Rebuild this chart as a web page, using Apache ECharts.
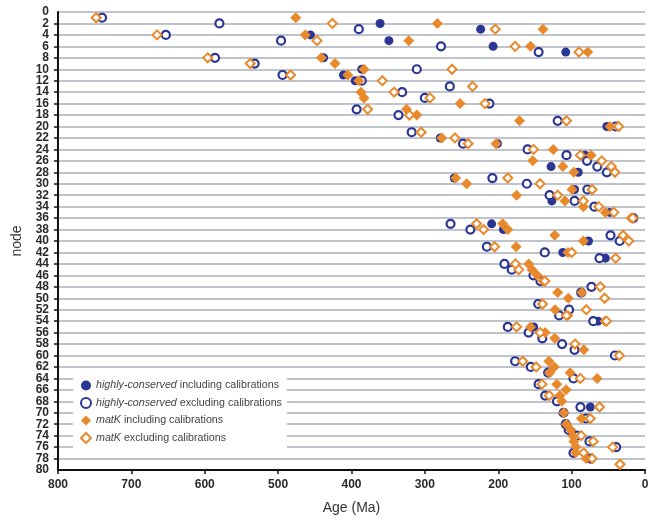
<!DOCTYPE html>
<html>
<head>
<meta charset="utf-8">
<script src="https://cdn.jsdelivr.net/npm/echarts@6/dist/echarts.min.js"></script>
<style>
html,body{margin:0;padding:0;background:#fff;}
#chart{width:655px;height:520px;}
</style>
</head>
<body>
<div id="chart"></div>
<script>
// [node, age (Ma)] pairs
const hcIncl = [[2,361],[3,224],[4,456],[5,349],[6,207],[7,108],[8,438],[10,386],[11,411],[12,395],
  [20,52],[22,279],[23,201],[25,81.6],[27,128],[28,91],[29,260],[31,96],[33,127],[35,48],[37,209],
  [38,193],[40,77],[42,112],[43,54],[54,64],[55,151.6],[69,74.5]];
const hcExcl = [[1,740],[2,580],[3,390],[4,653],[5,496],[6,278],[7,145],[8,586],[9,532],[10,311],
  [11,494],[12,386],[13,266],[14,331],[15,300],[16,212],[17,393],[18,336],[19,119],[20,40],[21,318],
  [23,248],[24,160],[25,107],[26,79],[27,65],[28,52],[29,208],[30,161],[31,78.5],[32,130],[33,96],
  [34,69],[36,16],[37,265],[38,238],[39,47],[40,34.5],[41,215.5],[42,136.6],[43,62],[44,191.6],
  [45,181.6],[46,152],[47,142.5],[48,73],[49,87],[51,145.5],[52,103.5],[53,117],[54,70.5],[55,187],
  [56,158.6],[57,140],[58,113],[59,96],[60,41],[61,177],[62,155.7],[63,132],[64,97.5],[65,145],
  [67,136],[68,120],[69,88],[70,111],[71,80.2],[72,108],[73,104],[74,93],[75,75.7],[76,39.3],
  [77,97.5],[78,74]];
const mkIncl = [[1,476],[2,283],[3,139],[4,463],[5,322],[6,156],[7,78],[8,441],[9,422.5],[10,383],
  [11,405],[12,390],[14,387],[15,383],[16,252],[17,325],[18,311],[19,171],[20,47.5],[22,277],[23,203],
  [24,125],[25,73.4],[26,153],[27,112],[28,97],[29,258],[30,243],[31,99.5],[32,175],[33,109],[34,84],
  [35,54],[36,19],[37,194],[38,187],[39,123],[40,84],[41,175.6],[42,105],[44,158.4],[45,154],[46,147],
  [47,139],[49,119],[49,86],[50,104.5],[52,122.5],[53,105],[54,54.5],[55,156],[56,136],[57,123],
  [59,83.4],[61,131],[62,123.6],[63,130],[63,102],[64,65.2],[65,120.2],[66,107.5],[67,116],[68,113.4],
  [70,110.5],[71,86.6],[72,107],[73,101],[74,98.4],[75,97],[76,94],[77,94.5],[78,80.2],[79,34]];
const mkExcl = [[1,748],[2,426],[3,204],[4,665],[5,447],[6,177],[7,90],[8,596],[9,538],[10,263],
  [11,483],[12,358],[13,235],[14,342],[15,293],[16,218],[17,378],[18,321],[19,107],[20,36],[21,305],
  [22,259],[23,241],[24,152],[25,88],[26,59],[27,46],[28,41],[29,187],[30,143],[31,72],[32,119],
  [33,84],[34,63],[35,42.5],[36,16.6],[37,229.5],[38,220],[39,30],[40,22],[41,205],[42,100],[43,40],
  [44,176.6],[45,172],[47,136.5],[48,61],[50,55],[51,139.6],[52,80],[53,107],[54,52.5],[55,175],
  [56,143],[58,95.5],[60,35],[61,166.6],[62,148.4],[64,88.2],[65,140.5],[67,130.5],[69,62],[71,74.7],
  [74,87],[75,70.5],[76,44],[77,83.7],[78,72],[79,34]];

const seriesNames = ['highly-conserved|including calibrations','highly-conserved|excluding calibrations',
  'matK|including calibrations','matK|excluding calibrations'];
const xTicks = {min:0, max:800, interval:100};
const yTicks = {min:0, max:80, interval:2};

const BLUE = '#2b3593';
const ORANGE = '#e8892c';
const FONT = '"Liberation Sans", Arial, Helvetica, sans-serif';

const toXY = arr => arr.map(p => [p[1], p[0]]);

const yLabelStyle = {fontSize: 12, fontWeight: 'bold', color: '#2a2a2a', margin: 9, fontFamily: FONT};

const chart = echarts.init(document.getElementById('chart'), null, {renderer:'canvas'});
chart.setOption({
  animation: false,
  backgroundColor: '#fff',
  textStyle: {fontFamily: FONT},
  grid: {left: 58, right: 10, top: 12, bottom: 48, containLabel: false},
  xAxis: {
    type: 'value', inverse: true, min: xTicks.min, max: xTicks.max, interval: xTicks.interval,
    position: 'bottom',
    name: 'Age (Ma)', nameLocation: 'middle', nameGap: 31,
    nameTextStyle: {fontSize: 14, color: '#333', fontFamily: FONT},
    axisLine: {show: true, onZero: false, lineStyle: {color: '#111', width: 2}},
    axisTick: {show: true, length: 4, lineStyle: {color: '#111', width: 1.5}},
    axisLabel: {fontSize: 12, fontWeight: 'bold', color: '#2a2a2a', margin: 9, fontFamily: FONT,
      showMinLabel: true, showMaxLabel: true},
    splitLine: {show: false}
  },
  yAxis: [{
    type: 'value', inverse: true, min: yTicks.min, max: yTicks.max, interval: yTicks.interval,
    position: 'left',
    name: 'node', nameLocation: 'middle', nameGap: 34, nameRotate: 90,
    nameTextStyle: {fontSize: 14, color: '#333', fontFamily: FONT},
    axisLine: {show: true, onZero: false, lineStyle: {color: '#111', width: 2}},
    axisTick: {show: true, length: 4, lineStyle: {color: '#111', width: 1.5}},
    axisLabel: Object.assign({showMinLabel: false, showMaxLabel: false}, yLabelStyle),
    splitLine: {show: true, lineStyle: {color: '#aab0b8', width: 1.5}}
  }, {
    type: 'value', inverse: true, min: yTicks.min, max: yTicks.max, interval: yTicks.max,
    position: 'left', offset: 0,
    axisLine: {show: false, onZero: false},
    axisTick: {show: false},
    axisLabel: Object.assign({showMinLabel: true, showMaxLabel: true}, yLabelStyle),
    splitLine: {show: false}
  }],
  legend: {
    orient: 'vertical', left: 73, top: 376,
    padding: [4, 5, 4, 7], itemGap: 6, itemWidth: 10, itemHeight: 10,
    backgroundColor: '#fff',
    data: seriesNames,
    formatter: function (name) {
      const parts = name.split('|');
      return '{i|' + parts[0] + '} {n|' + parts[1] + '}';
    },
    textStyle: {
      fontSize: 10.7, color: '#444', fontFamily: FONT, lineHeight: 11,
      rich: {
        i: {fontStyle: 'italic', fontSize: 10.7, color: '#444', fontFamily: FONT, lineHeight: 11},
        n: {fontSize: 10.7, color: '#444', fontFamily: FONT, lineHeight: 11}
      }
    }
  },
  series: [
    {name: seriesNames[0], type: 'scatter', symbol: 'circle', symbolSize: 9,
     itemStyle: {color: BLUE, opacity: 1}, data: toXY(hcIncl)},
    {name: seriesNames[1], type: 'scatter', symbol: 'circle', symbolSize: 8,
     itemStyle: {color: '#fff', borderColor: BLUE, borderWidth: 2.2, opacity: 1}, data: toXY(hcExcl)},
    {name: seriesNames[2], type: 'scatter', symbol: 'diamond', symbolSize: 11,
     itemStyle: {color: ORANGE, opacity: 1}, data: toXY(mkIncl)},
    {name: seriesNames[3], type: 'scatter', symbol: 'diamond', symbolSize: 9,
     itemStyle: {color: '#fff', borderColor: ORANGE, borderWidth: 2, opacity: 1}, data: toXY(mkExcl)}
  ]
});
</script>
</body>
</html>
